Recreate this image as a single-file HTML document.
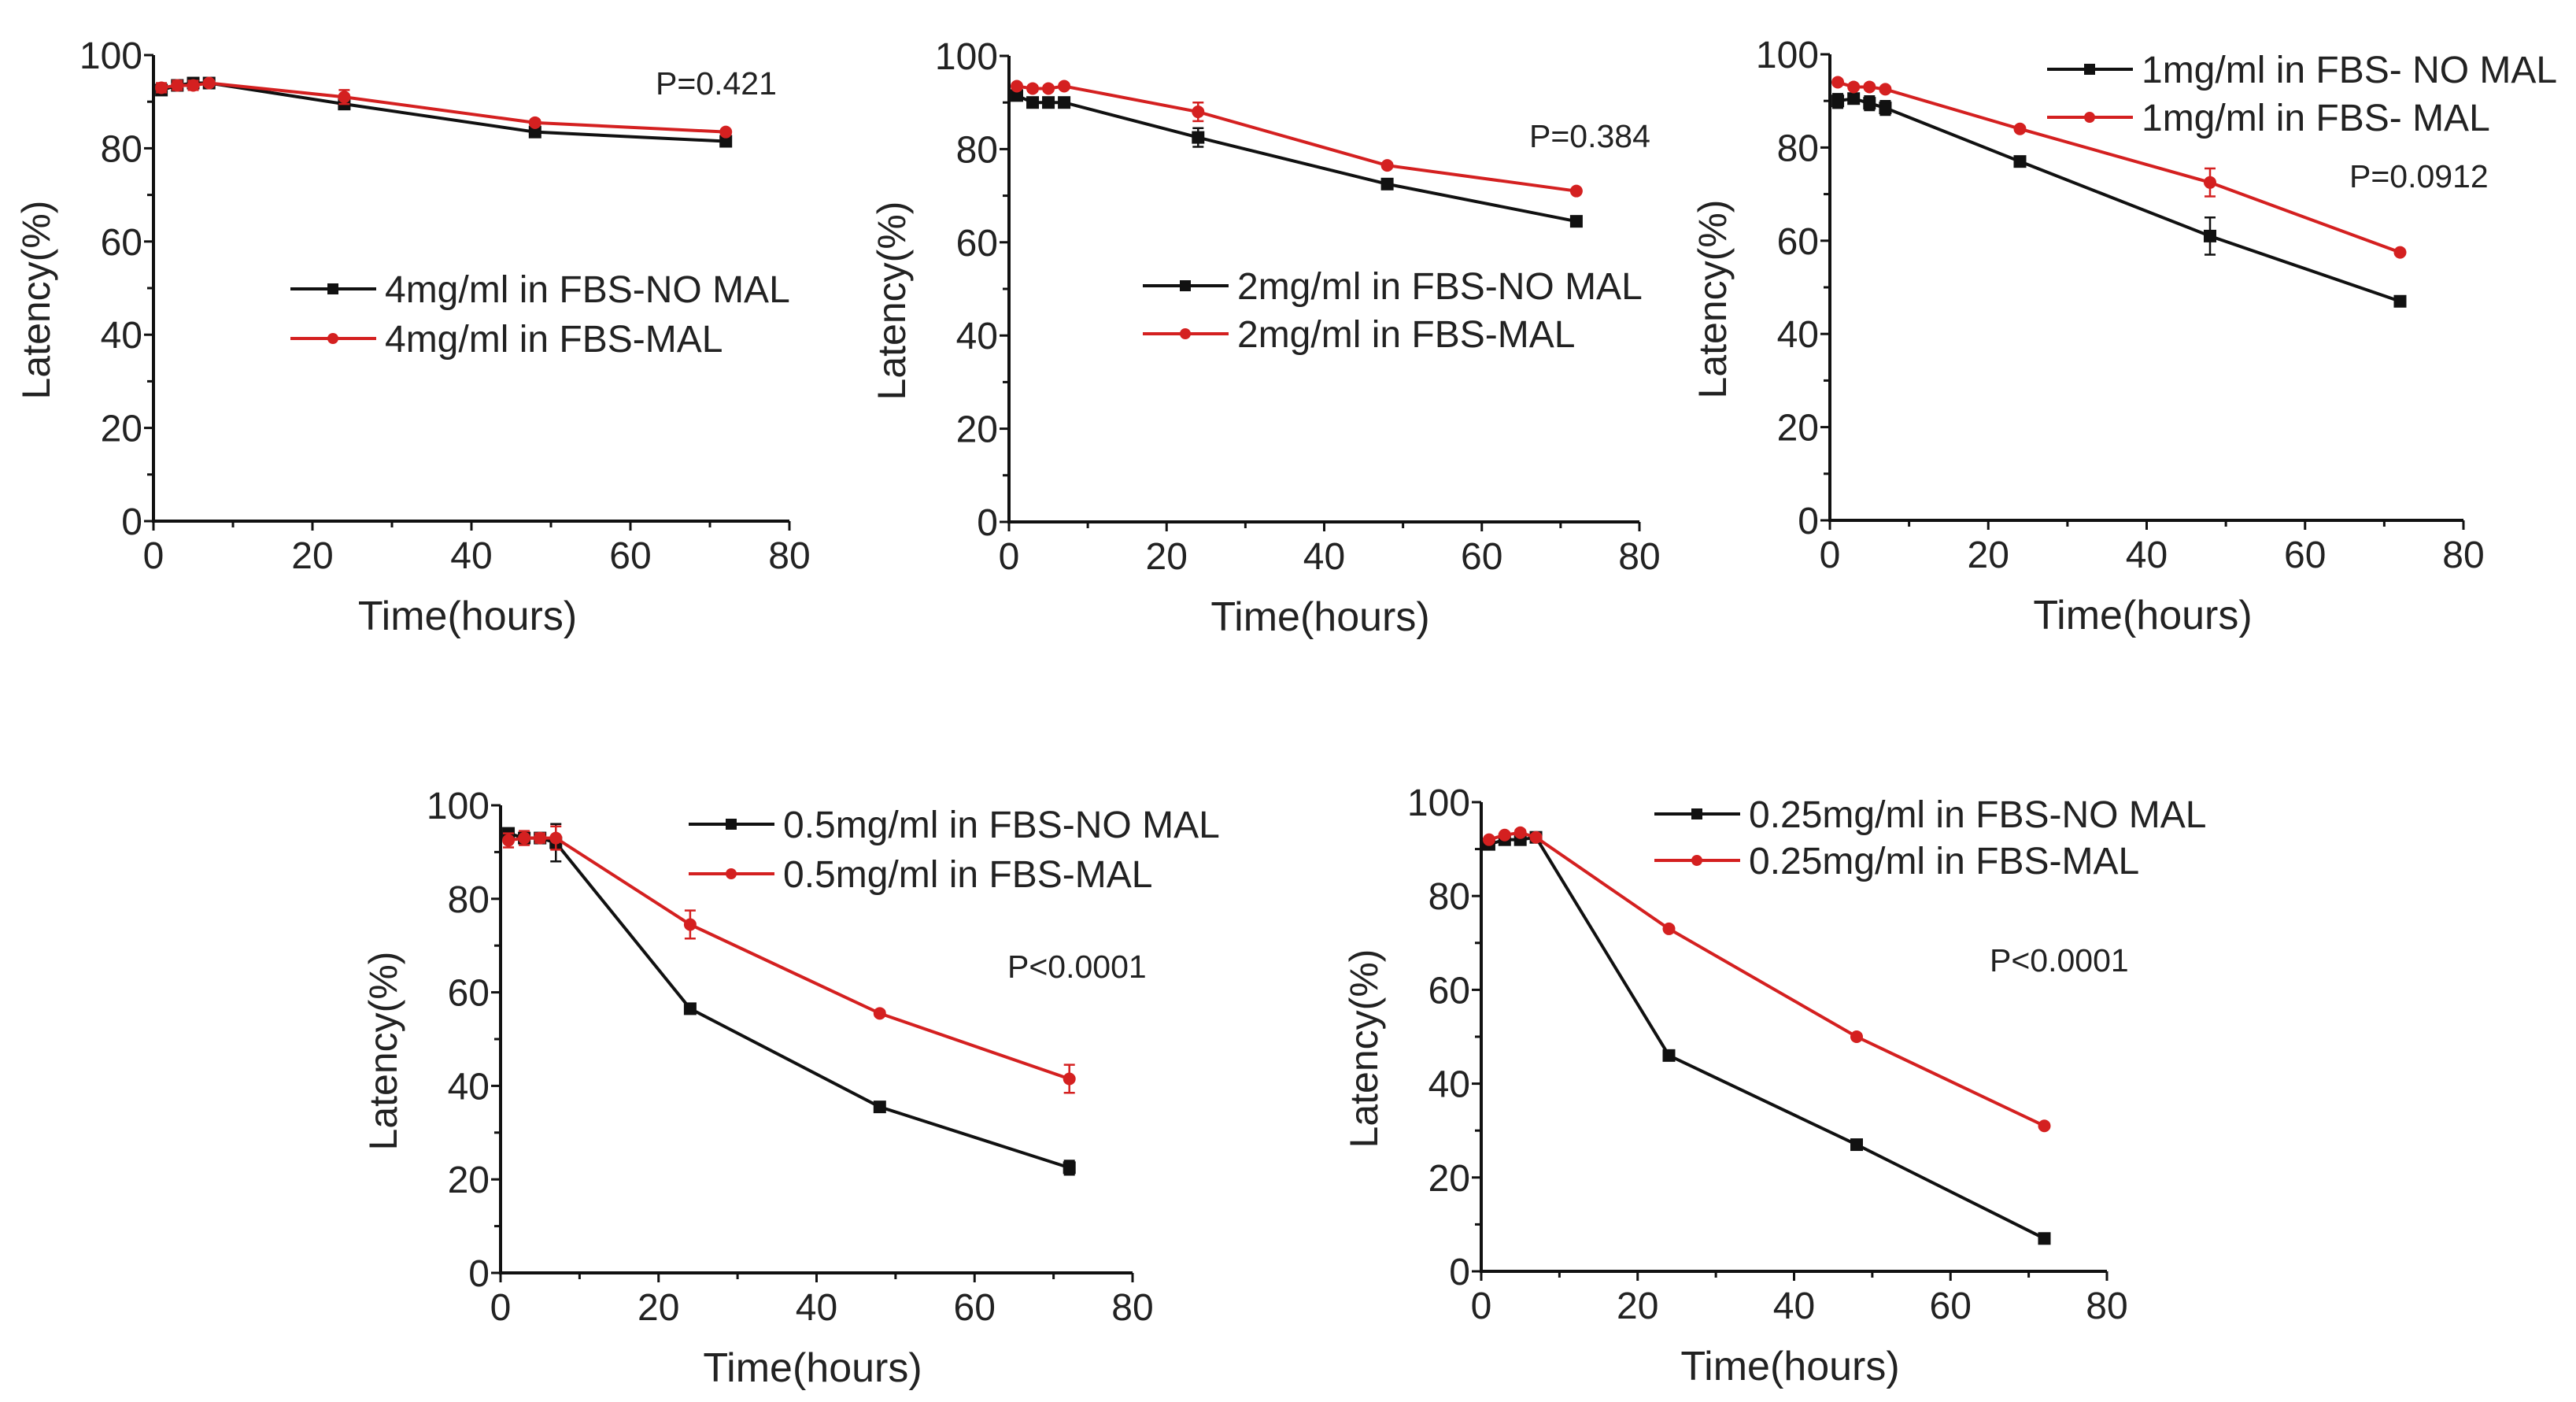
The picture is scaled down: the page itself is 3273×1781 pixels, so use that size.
<!DOCTYPE html>
<html><head><meta charset="utf-8"><style>
html,body{margin:0;padding:0;background:#fff;}
svg{display:block;font-family:"Liberation Sans",Arial,sans-serif;}
</style></head><body>
<svg id="latfig" width="3273" height="1781" viewBox="0 0 3273 1781" xmlns="http://www.w3.org/2000/svg"></svg>
<script>
var timePoints = [1, 3, 5, 7, 24, 48, 72];
var xTicks = [0, 20, 40, 60, 80];
var yTicks = [0, 20, 40, 60, 80, 100];
var p1NoMal = [92.5, 93.5, 94, 94, 89.5, 83.5, 81.5];
var p1Mal = [93, 93.5, 93.5, 94, 91, 85.5, 83.5];
var p2NoMal = [91.5, 90, 90, 90, 82.5, 72.5, 64.5];
var p2Mal = [93.5, 93, 93, 93.5, 88, 76.5, 71];
var p3NoMal = [90, 90.5, 89.5, 88.5, 77, 61, 47];
var p3Mal = [94, 93, 93, 92.5, 84, 72.5, 57.5];
var p4NoMal = [94, 93, 93, 92, 56.5, 35.5, 22.5];
var p4Mal = [92.5, 93, 93, 93, 74.5, 55.5, 41.5];
var p5NoMal = [91, 92, 92, 92.5, 46, 27, 7];
var p5Mal = [92, 93, 93.5, 92.5, 73, 50, 31];
var p1NoMalErr = [1, 1, 0.5, 0.5, 1, 0.5, 0.5];
var p1MalErr = [1, 1, 1, 0.5, 1.5, 0.5, 0.5];
var p2NoMalErr = [1, 1, 1, 1, 2, 0.5, 0.5];
var p2MalErr = [0.5, 0.5, 0.5, 0.5, 2, 0.5, 0.5];
var p3NoMalErr = [1.5, 1, 1.5, 1.5, 0.5, 4, 0.5];
var p3MalErr = [0.5, 0.5, 0.5, 0.5, 0.5, 3, 0.5];
var p4NoMalErr = [1, 1, 1, 4, 0.5, 0.5, 1.5];
var p4MalErr = [1.5, 1.5, 1, 2.5, 3, 0.5, 3];
var p5NoMalErr = [0.5, 0.5, 0.5, 0.5, 0.5, 0.5, 0.5];
var p5MalErr = [0.5, 0.5, 0.5, 0.5, 0.5, 0.5, 0.5];

(function () {
  var root = document.getElementById('latfig');
  var SVGNS = 'http://www.w3.org/2000/svg';
  function mkEl(tag, attrs, parent, text) {
    var e = document.createElementNS(SVGNS, tag);
    for (var k in attrs) { e.setAttribute(k, attrs[k]); }
    if (text !== undefined) { e.textContent = text; }
    (parent || root).appendChild(e);
    return e;
  }
  var panels = [
    {id:'4mg', x0:195, x1:1003, y0:662, y1:70, nm:p1NoMal, m:p1Mal, ne:p1NoMalErr, me:p1MalErr,
     l1:'4mg/ml in FBS-NO MAL', l2:'4mg/ml in FBS-MAL', lx:369, ly1:367, ly2:430, p:'P=0.421', px:833, py:120},
    {id:'2mg', x0:1282, x1:2083, y0:663, y1:71, nm:p2NoMal, m:p2Mal, ne:p2NoMalErr, me:p2MalErr,
     l1:'2mg/ml in FBS-NO MAL', l2:'2mg/ml in FBS-MAL', lx:1452, ly1:363, ly2:424, p:'P=0.384', px:1943, py:187},
    {id:'1mg', x0:2325, x1:3130, y0:661, y1:69, nm:p3NoMal, m:p3Mal, ne:p3NoMalErr, me:p3MalErr,
     l1:'1mg/ml in FBS- NO MAL', l2:'1mg/ml in FBS- MAL', lx:2601, ly1:88, ly2:149, p:'P=0.0912', px:2985, py:238},
    {id:'05mg', x0:636, x1:1439, y0:1617, y1:1023, nm:p4NoMal, m:p4Mal, ne:p4NoMalErr, me:p4MalErr,
     l1:'0.5mg/ml in FBS-NO MAL', l2:'0.5mg/ml in FBS-MAL', lx:875, ly1:1047, ly2:1110, p:'P<0.0001', px:1280, py:1242},
    {id:'025mg', x0:1882, x1:2677, y0:1615, y1:1019, nm:p5NoMal, m:p5Mal, ne:p5NoMalErr, me:p5MalErr,
     l1:'0.25mg/ml in FBS-NO MAL', l2:'0.25mg/ml in FBS-MAL', lx:2102, ly1:1034, ly2:1093, p:'P<0.0001', px:2528, py:1234}
  ];
  panels.forEach(function (P) {
    var g = mkEl('g', {});
    
    
    var sx = function (v) { return P.x0 + (P.x1 - P.x0) * v / 80; };
    var sy = function (v) { return P.y0 + (P.y1 - P.y0) * v / 100; };
    var ax = mkEl('path', {d:'M' + P.x0 + ',' + sy(100) + ' L' + P.x0 + ',' + P.y0 + ' L' + P.x1 + ',' + P.y0, fill:'none', stroke:'#111', 'stroke-width':4}, g);
    
    
    var v;
    for (v = 0; v <= 80; v += 10) {
      var majX = v % 20 === 0;
      mkEl('line', {x1:sx(v), x2:sx(v), y1:P.y0, y2:P.y0 + (majX ? 12 : 8), stroke:'#111', 'stroke-width':3}, g);
    }
    for (v = 0; v <= 100; v += 10) {
      var majY = v % 20 === 0;
      mkEl('line', {x1:P.x0 - (majY ? 12 : 8), x2:P.x0, y1:sy(v), y2:sy(v), stroke:'#111', 'stroke-width':3}, g);
    }
    xTicks.forEach(function (t) {
      var el = mkEl('text', {x:sx(t), y:P.y0 + 60, 'text-anchor':'middle', 'font-size':48, fill:'#222'}, g, String(t));
      
      
    });
    yTicks.forEach(function (t) {
      var el = mkEl('text', {x:P.x0 - 14, y:sy(t) + 17, 'text-anchor':'end', 'font-size':48, fill:'#222'}, g, String(t));
      
      
    });
    var xt = mkEl('text', {x:(P.x0 + P.x1) / 2 - 5, y:P.y0 + 138, 'text-anchor':'middle', 'font-size':52, fill:'#222'}, g, 'Time(hours)');
    
    
    var ycx = P.x0 - 132, ycy = (P.y0 + sy(100)) / 2 + 15;
    var yt = mkEl('text', {x:ycx, y:ycy, 'text-anchor':'middle', 'font-size':50, fill:'#222', transform:'rotate(-90 ' + ycx + ' ' + ycy + ')'}, g, 'Latency(%)');
    
    
    var seriesList = [[P.nm, P.ne, '#111', 'square', 'series-no-mal'], [P.m, P.me, '#d42020', 'circle', 'series-mal']];
    seriesList.forEach(function (s) {
      var vals = s[0], errs = s[1], col = s[2], shape = s[3];
      var sg = mkEl('g', {}, g);
      
      
      var d = vals.map(function (val, i) { return (i ? 'L' : 'M') + sx(timePoints[i]) + ',' + sy(val); }).join(' ');
      mkEl('path', {d:d, fill:'none', stroke:col, 'stroke-width':4}, sg);
      vals.forEach(function (val, i) {
        var x = sx(timePoints[i]), y = sy(val), e = errs[i];
        var ya = sy(val + e), yb = sy(val - e);
        mkEl('path', {d:'M' + x + ',' + ya + ' L' + x + ',' + yb + ' M' + (x - 7) + ',' + ya + ' L' + (x + 7) + ',' + ya + ' M' + (x - 7) + ',' + yb + ' L' + (x + 7) + ',' + yb, stroke:col, 'stroke-width':2.5, fill:'none'}, sg);
        var mrk;
        if (shape === 'square') { mrk = mkEl('rect', {x:x - 8, y:y - 8, width:16, height:16, fill:col}, sg); }
        else { mrk = mkEl('circle', {cx:x, cy:y, r:8, fill:col}, sg); }
        
        
      });
    });
    var lg = mkEl('g', {}, g);
    
    
    [[P.ly1, '#111', 'square', P.l1], [P.ly2, '#d42020', 'circle', P.l2]].forEach(function (L) {
      var ly = L[0], col = L[1];
      var eg = mkEl('g', {}, lg);
      
      
      mkEl('line', {x1:P.lx, x2:P.lx + 109, y1:ly, y2:ly, stroke:col, 'stroke-width':4}, eg);
      if (L[2] === 'square') { mkEl('rect', {x:P.lx + 47, y:ly - 7, width:14, height:14, fill:col}, eg); }
      else { mkEl('circle', {cx:P.lx + 54, cy:ly, r:7, fill:col}, eg); }
      mkEl('text', {x:P.lx + 120, y:ly + 17, 'font-size':48, fill:'#222'}, eg, L[3]);
    });
    var pt = mkEl('text', {x:P.px, y:P.py, 'font-size':41, fill:'#222'}, g, P.p);
    
    
  });
})();
</script>
</body></html>
